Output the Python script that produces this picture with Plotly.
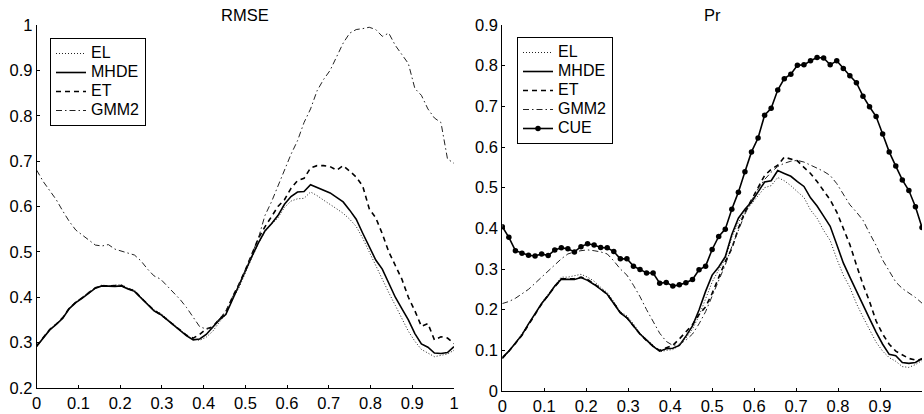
import plotly.graph_objects as go

# grid of tau values (65 points, step 1/64)
x = [i / 64 for i in range(65)]

# ---- RMSE panel ----
rmse_el = [0.290, 0.310, 0.327, 0.342, 0.355, 0.376, 0.390, 0.400, 0.412, 0.420,
           0.427, 0.425, 0.426, 0.428, 0.420, 0.416, 0.400, 0.385, 0.372, 0.365,
           0.352, 0.340, 0.328, 0.316, 0.308, 0.305, 0.312, 0.325, 0.345, 0.362,
           0.395, 0.420, 0.455, 0.487, 0.518, 0.545, 0.560, 0.575, 0.598, 0.612,
           0.617, 0.618, 0.632, 0.624, 0.614, 0.605, 0.595, 0.585, 0.572, 0.556,
           0.530, 0.500, 0.470, 0.438, 0.410, 0.382, 0.355, 0.325, 0.303, 0.285,
           0.277, 0.269, 0.272, 0.275, 0.283]
rmse_mhde = [0.292, 0.310, 0.328, 0.340, 0.354, 0.375, 0.388, 0.398, 0.410, 0.420,
             0.425, 0.424, 0.424, 0.425, 0.418, 0.413, 0.398, 0.383, 0.370, 0.362,
             0.350, 0.338, 0.326, 0.315, 0.306, 0.308, 0.318, 0.333, 0.350, 0.362,
             0.395, 0.425, 0.458, 0.490, 0.520, 0.546, 0.562, 0.580, 0.605, 0.622,
             0.632, 0.633, 0.648, 0.642, 0.636, 0.630, 0.620, 0.610, 0.592, 0.572,
             0.541, 0.510, 0.482, 0.462, 0.430, 0.400, 0.375, 0.350, 0.320, 0.297,
             0.290, 0.277, 0.276, 0.278, 0.291]
rmse_et = [0.293, 0.311, 0.329, 0.341, 0.355, 0.376, 0.389, 0.399, 0.411, 0.421,
           0.425, 0.425, 0.425, 0.426, 0.419, 0.414, 0.399, 0.384, 0.371, 0.362,
           0.350, 0.338, 0.326, 0.316, 0.310, 0.318, 0.330, 0.335, 0.352, 0.366,
           0.400, 0.428, 0.460, 0.495, 0.530, 0.555, 0.578, 0.600, 0.615, 0.640,
           0.657, 0.662, 0.685, 0.690, 0.690, 0.688, 0.680, 0.690, 0.678, 0.665,
           0.645, 0.595, 0.575, 0.540, 0.500, 0.470, 0.440, 0.400, 0.370, 0.336,
           0.342, 0.306, 0.313, 0.310, 0.298]
rmse_gmm2 = [0.680, 0.655, 0.635, 0.615, 0.590, 0.567, 0.548, 0.537, 0.527, 0.515,
             0.513, 0.516, 0.506, 0.502, 0.497, 0.493, 0.480, 0.462, 0.447, 0.440,
             0.425, 0.410, 0.395, 0.377, 0.357, 0.335, 0.330, 0.333, 0.352, 0.370,
             0.400, 0.425, 0.460, 0.495, 0.530, 0.580, 0.610, 0.645, 0.680, 0.715,
             0.745, 0.785, 0.815, 0.855, 0.880, 0.900, 0.930, 0.960, 0.982, 0.990,
             0.992, 0.995, 0.990, 0.975, 0.982, 0.955, 0.935, 0.915, 0.860, 0.845,
             0.815, 0.795, 0.785, 0.705, 0.695]

# ---- Pr panel ----
pr_el = [0.080, 0.097, 0.118, 0.140, 0.165, 0.190, 0.217, 0.238, 0.260, 0.280,
         0.280, 0.283, 0.287, 0.280, 0.270, 0.255, 0.242, 0.220, 0.195, 0.185,
         0.165, 0.142, 0.128, 0.113, 0.096, 0.100, 0.102, 0.112, 0.130, 0.152,
         0.185, 0.228, 0.268, 0.298, 0.325, 0.378, 0.415, 0.440, 0.460, 0.482,
         0.500, 0.505, 0.525, 0.517, 0.505, 0.490, 0.476, 0.445, 0.425, 0.395,
         0.370, 0.325, 0.285, 0.255, 0.215, 0.182, 0.150, 0.120, 0.098, 0.082,
         0.073, 0.060, 0.058, 0.065, 0.075]
pr_mhde = [0.082, 0.098, 0.118, 0.138, 0.165, 0.190, 0.215, 0.235, 0.258, 0.275,
           0.274, 0.274, 0.279, 0.272, 0.262, 0.250, 0.238, 0.215, 0.192, 0.180,
           0.160, 0.140, 0.125, 0.110, 0.098, 0.104, 0.105, 0.112, 0.135, 0.160,
           0.199, 0.245, 0.285, 0.305, 0.330, 0.385, 0.425, 0.447, 0.465, 0.490,
           0.514, 0.517, 0.542, 0.535, 0.528, 0.515, 0.503, 0.475, 0.455, 0.430,
           0.405, 0.360, 0.315, 0.280, 0.245, 0.210, 0.178, 0.145, 0.115, 0.090,
           0.087, 0.070, 0.068, 0.070, 0.080]
pr_et = [0.080, 0.098, 0.117, 0.137, 0.163, 0.188, 0.214, 0.236, 0.257, 0.276,
         0.276, 0.276, 0.280, 0.274, 0.264, 0.252, 0.238, 0.216, 0.193, 0.180,
         0.160, 0.140, 0.124, 0.110, 0.100, 0.106, 0.112, 0.128, 0.145, 0.163,
         0.188, 0.207, 0.240, 0.280, 0.318, 0.350, 0.400, 0.440, 0.470, 0.500,
         0.530, 0.545, 0.555, 0.575, 0.570, 0.566, 0.550, 0.535, 0.515, 0.494,
         0.470, 0.440, 0.400, 0.360, 0.310, 0.262, 0.220, 0.172, 0.140, 0.115,
         0.098, 0.089, 0.080, 0.076, 0.078]
pr_gmm2 = [0.215, 0.220, 0.228, 0.238, 0.250, 0.265, 0.280, 0.295, 0.310, 0.325,
           0.337, 0.342, 0.345, 0.347, 0.345, 0.342, 0.337, 0.320, 0.300, 0.285,
           0.260, 0.232, 0.200, 0.170, 0.142, 0.122, 0.112, 0.115, 0.125, 0.140,
           0.165, 0.195, 0.232, 0.270, 0.310, 0.355, 0.395, 0.435, 0.468, 0.497,
           0.520, 0.538, 0.552, 0.560, 0.565, 0.567, 0.563, 0.556, 0.548, 0.540,
           0.530, 0.510, 0.485, 0.458, 0.440, 0.420, 0.388, 0.358, 0.322, 0.295,
           0.268, 0.252, 0.242, 0.230, 0.216]
pr_cue = [0.404, 0.378, 0.345, 0.339, 0.334, 0.332, 0.337, 0.333, 0.347, 0.352,
          0.350, 0.342, 0.355, 0.362, 0.359, 0.353, 0.352, 0.343, 0.325, 0.325,
          0.307, 0.299, 0.290, 0.290, 0.265, 0.267, 0.258, 0.261, 0.266, 0.274,
          0.298, 0.307, 0.348, 0.380, 0.398, 0.447, 0.489, 0.539, 0.588, 0.622,
          0.678, 0.695, 0.740, 0.768, 0.779, 0.801, 0.802, 0.812, 0.820, 0.819,
          0.802, 0.812, 0.793, 0.775, 0.758, 0.725, 0.699, 0.675, 0.632, 0.588,
          0.553, 0.519, 0.493, 0.453, 0.402]

x_ticks = [0, 0.1, 0.2, 0.3, 0.4, 0.5, 0.6, 0.7, 0.8, 0.9, 1]
x_tick_labels = ["0", "0.1", "0.2", "0.3", "0.4", "0.5", "0.6", "0.7", "0.8", "0.9", "1"]
rmse_ticks = [0.2, 0.3, 0.4, 0.5, 0.6, 0.7, 0.8, 0.9, 1]
rmse_tick_labels = ["0.2", "0.3", "0.4", "0.5", "0.6", "0.7", "0.8", "0.9", "1"]
pr_ticks = [0, 0.1, 0.2, 0.3, 0.4, 0.5, 0.6, 0.7, 0.8, 0.9]
pr_tick_labels = ["0", "0.1", "0.2", "0.3", "0.4", "0.5", "0.6", "0.7", "0.8", "0.9"]

W, H = 924, 414
FONT = "Liberation Sans, Arial, Helvetica, sans-serif"

styles = {
    "EL": dict(color="#222", width=1, dash="1px,2px"),
    "MHDE": dict(color="black", width=1.6, dash="solid"),
    "ET": dict(color="black", width=1.6, dash="5px,4px"),
    "GMM2": dict(color="#222", width=1, dash="6px,3px,1.5px,3px"),
    "CUE": dict(color="black", width=1.6, dash="solid"),
}


def label(name):
    # larger glyphs inside a compact legend row
    return '<span style="font-size:16px">' + name + "</span>"


fig = go.Figure()

for name, ys in [("EL", rmse_el), ("MHDE", rmse_mhde), ("ET", rmse_et), ("GMM2", rmse_gmm2)]:
    fig.add_trace(go.Scatter(x=x, y=ys, name=label(name), mode="lines", line=styles[name],
                             xaxis="x", yaxis="y", legend="legend"))

for name, ys in [("EL", pr_el), ("MHDE", pr_mhde), ("ET", pr_et), ("GMM2", pr_gmm2)]:
    fig.add_trace(go.Scatter(x=x, y=ys, name=label(name), mode="lines", line=styles[name],
                             xaxis="x2", yaxis="y2", legend="legend2"))
fig.add_trace(go.Scatter(x=x, y=pr_cue, name=label("CUE"), mode="lines+markers", line=styles["CUE"],
                         marker=dict(color="black", size=5.5),
                         xaxis="x2", yaxis="y2", legend="legend2"))

axis_common = dict(showline=True, linecolor="black", linewidth=1, ticks="inside",
                   ticklen=3, tickcolor="black", showgrid=False, zeroline=False,
                   automargin=False,
                   tickfont=dict(family=FONT, size=16.5, color="black"))

legend_common = dict(xanchor="left", yanchor="top",
                     bordercolor="black", borderwidth=1, bgcolor="white",
                     font=dict(family=FONT, size=12.2, color="black"),
                     itemwidth=30, tracegroupgap=0)

fig.update_layout(
    width=W, height=H,
    margin=dict(l=0, r=0, t=0, b=0, pad=0, autoexpand=False),
    paper_bgcolor="white", plot_bgcolor="white",
    font=dict(family=FONT, size=16, color="black"),
    xaxis=dict(domain=[36.7 / W, 454 / W], range=[0, 1], anchor="y",
               tickvals=x_ticks, ticktext=x_tick_labels, **axis_common),
    yaxis=dict(domain=[(H - 388) / H, (H - 25) / H], range=[0.2, 1], anchor="x",
               tickvals=rmse_ticks, ticktext=rmse_tick_labels, **axis_common),
    xaxis2=dict(domain=[502.3 / W, 922 / W], range=[0, 1], anchor="y2",
                tickvals=x_ticks, ticktext=x_tick_labels, **axis_common),
    yaxis2=dict(domain=[(H - 391) / H, (H - 25) / H], range=[0, 0.9], anchor="x2",
                tickvals=pr_ticks, ticktext=pr_tick_labels, **axis_common),
    legend=dict(x=50 / W, y=1 - 38 / H, **legend_common),
    legend2=dict(x=517 / W, y=1 - 37 / H, **legend_common),
    annotations=[
        dict(text="RMSE", x=(36.7 + 454) / 2 / W, y=1 - 15 / H, xref="paper", yref="paper",
             showarrow=False, xanchor="center", yanchor="middle",
             font=dict(family=FONT, size=16.5, color="black")),
        dict(text="Pr", x=(502.3 + 922) / 2 / W, y=1 - 15 / H, xref="paper", yref="paper",
             showarrow=False, xanchor="center", yanchor="middle",
             font=dict(family=FONT, size=16.5, color="black")),
    ],
)

fig.write_html(
    "out.html",
    config={"displayModeBar": False},
    post_script="document.body.style.margin='0';document.body.style.padding='0';"
                "document.documentElement.style.overflow='hidden';document.body.style.overflow='hidden';",
)
